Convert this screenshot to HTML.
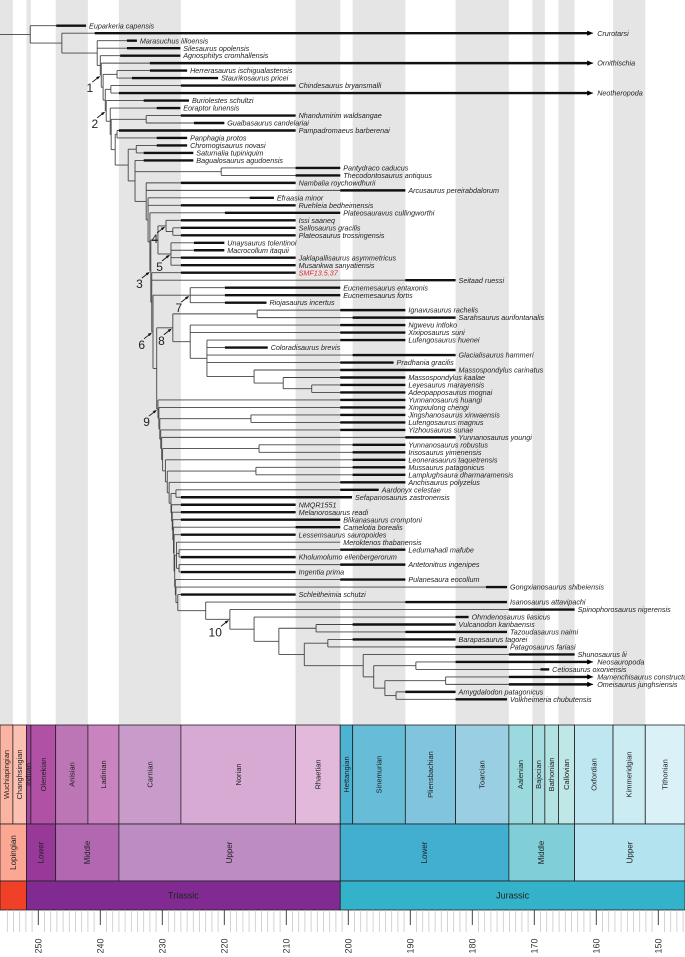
<!DOCTYPE html>
<html><head><meta charset="utf-8"><title>Sauropodomorph time-calibrated phylogeny</title>
<style>
html,body{margin:0;padding:0;background:#fff;}
svg{display:block;font-family:"Liberation Sans",Arial,sans-serif;}
.tx{font-size:7.2px;font-style:italic;fill:#222;}
</style></head>
<body>
<svg id="chart" width="685" height="957" viewBox="0 0 685 957" xmlns="http://www.w3.org/2000/svg">
<g id="bands"></g>
<g id="tree"></g>
<g id="scale"></g>
<g id="axis"></g>
</svg>
<script>
// ---------- DATA ----------
const taxa = ["Euparkeria capensis","Crurotarsi","Marasuchus lilloensis","Silesaurus opolensis","Agnosphitys cromhallensis","Ornithischia","Herrerasaurus ischigualastensis","Staurikosaurus pricei","Chindesaurus bryansmalli","Neotheropoda","Buriolestes schultzi","Eoraptor lunensis","Nhandumirim waldsangae","Guaibasaurus candelariai","Pampadromaeus barberenai","Panphagia protos","Chromogisaurus novasi","Saturnalia tupiniquim","Bagualosaurus agudoensis","Pantydraco caducus","Thecodontosaurus antiquus","Nambalia roychowdhurii","Arcusaurus pereirabdalorum","Efraasia minor","Ruehleia bedheimensis","Plateosauravus cullingworthi","Issi saaneq","Sellosaurus gracilis","Plateosaurus trossingensis","Unaysaurus tolentinoi","Macrocollum itaquii","Jaklapallisaurus asymmetricus","Musankwa sanyatiensis","SMF13.5.37","Seitaad ruessi","Eucnemesaurus entaxonis","Eucnemesaurus fortis","Riojasaurus incertus","Ignavusaurus rachelis","Sarahsaurus aurifontanalis","Ngwevu intloko","Xixiposaurus suni","Lufengosaurus huenei","Coloradisaurus brevis","Glacialisaurus hammeri","Pradhania gracilis","Massospondylus carinatus","Massospondylus kaalae","Leyesaurus marayensis","Adeopapposaurus mognai","Yunnanosaurus huangi","Xingxiulong chengi","Jingshanosaurus xinwaensis","Lufengosaurus magnus","Yizhousaurus sunae","Yunnanosaurus youngi","Yunnanosaurus robustus","Irisosaurus yimenensis","Leonerasaurus taquetrensis","Mussaurus patagonicus","Lamplughsaura dharmaramensis","Anchisaurus polyzelus","Aardonyx celestae","Sefapanosaurus zastronensis","NMQR1551","Melanorosaurus readi","Blikanasaurus cromptoni","Camelotia borealis","Lessemsaurus sauropoides","Meroktenos thabanensis","Ledumahadi mafube","Kholumolumo ellenbergerorum","Antetonitrus ingenipes","Ingentia prima","Pulanesaura eocollum","Gongxianosaurus shibeiensis","Schleitheimia schutzi","Isanosaurus attavipachi","Spinophorosaurus nigerensis","Ohmdenosaurus liasicus","Vulcanodon karibaensis","Tazoudasaurus naimi","Barapasaurus tagorei","Patagosaurus fariasi","Shunosaurus lii","Neosauropoda","Cetiosaurus oxoniensis","Mamenchisaurus constructus","Omeisaurus junghsiensis","Amygdalodon patagonicus","Volkheimeria chubutensis"];
// youngest age of each terminal (Ma)
const tipAge = [242.3,160.5,234.1,227.1,227.1,160.5,226.0,221.0,208.5,160.5,225.7,227.1,208.5,220.0,208.5,226.0,226.0,225.0,225.0,201.3,201.3,208.5,190.8,212.0,208.5,201.3,208.5,208.5,208.5,220.0,220.0,208.5,208.5,208.5,182.7,201.3,201.3,213.2,190.8,182.7,190.8,190.8,190.8,213.0,182.7,192.7,182.7,190.8,190.8,190.8,190.8,190.8,190.8,190.8,190.8,182.7,190.8,190.8,190.8,190.8,190.8,190.8,195.1,199.4,208.5,208.5,201.3,201.3,208.5,201.3,190.8,208.5,190.8,208.5,190.8,174.4,208.5,174.4,163.5,180.6,182.7,174.4,182.7,174.4,163.5,160.5,167.6,160.5,160.5,182.7,174.4];
// oldest age of observed range (Ma)
const rangeOld = [247.1,240.9,235.7,235.7,236.8,232.0,232.0,234.9,227,237.0,233.0,230.9,227,224.9,237.0,230.9,230.9,233.0,233.0,208.5,208.5,227,201.3,215.9,227,219.9,227,227,227,224.9,224.9,227,227,227,190.8,219.9,219.9,219.9,201.3,199.3,201.3,201.3,201.3,219.9,199.3,201.3,201.3,201.3,201.3,201.3,201.3,201.3,201.3,201.3,201.3,190.8,199.3,199.3,199.3,199.3,199.3,201.3,201.3,227,227,227,227,208.5,227,201.3,201.3,227,201.3,227,201.3,177.8,227,190.8,174.1,182.7,199.3,190.8,199.3,182.7,174.1,182.7,169.0,174.1,174.1,190.8,182.7];
const arrowTaxa = [1,5,9,85,87,88];
const highlightTaxa = [33];
// clades: [id, divergence age (Ma), children]
const clades = [
 ['A',251.3,[0,'B']],['B',246.2,[1,'C']],['C',240.5,[2,3,'E']],['E',240.0,[4,'F']],
 ['F',239.85,[5,'G']],['G',239.55,['H','J']],['H',237.3,[6,7]],['J',239.2,['K','L']],
 ['K',238.3,[8,9]],['L',239.05,[10,'M']],['M',238.4,[11,'N']],['N',238.25,['O','P']],
 ['O',232.6,[12,13]],['P',237.6,['Q','R']],['Q',237.3,[14,15]],['R',235.5,['S','T']],
 ['S',234.2,[16,17]],['T',234.4,[18,'V','W']],['V',220.5,[19,20]],['W',232.6,[21,22,'X']],
 ['X',232.3,[23,24,'X2']],['X2',232.0,[25,'N3']],['N3',231.85,['G45','N3b']],
 ['G45',230.7,['N4','N5']],['N4',229.4,[26,'SP']],['SP',228.3,[27,28]],['N5',228.6,[29,30,31,32]],
 ['N3b',231.7,[33,34,'N6']],['N6',231.5,['N7','A6']],['N7',225.5,[35,36,37]],['A6',230.9,['N8','N9']],
 ['N8',228.3,['IS','N8a']],['IS',214.7,[38,39]],['N8a',225.5,[40,41,'N8b']],
 ['N8b',222.8,[42,43,44,45,'N8c']],['N8c',215.2,[46,'N8d']],['N8d',210.5,[47,'LA']],['LA',205.9,[48,49]],
 ['N9',230.7,[50,'N9a']],['N9a',230.55,[51,'N9b']],['N9b',230.4,['JL','N9c']],['JL',215.7,[52,53]],
 ['N9c',230.25,[54,'N9d']],['N9d',230.1,[55,'N9e']],['N9e',229.95,['YI','N9f']],['YI',214.4,[56,57]],
 ['N9f',229.5,[58,'N9g']],['N9g',229.2,['ML','N9h']],['ML',214.9,[59,60]],['N9h',228.9,[61,'N9i']],
 ['N9i',228.6,['AS','N9j']],['AS',227.8,[62,63]],['N9j',228.5,[64,'N9k']],['N9k',228.4,[65,'N9l']],
 ['N9l',228.3,[66,'N9m']],['N9m',228.2,[67,'N9n']],['N9n',228.1,[68,'N9o']],['N9o',228.0,['MG','N9p']],
 ['MG',227.7,[69,'LK',"AI"]],['LK',227.3,[70,71]],['AI',227.3,[72,73]],['N9p',227.9,[74,'N9q']],
 ['N9q',227.8,[75,'N9r']],['N9r',227.5,[76,'SAU']],['SAU',223.0,[77,'S10']],['S10',219.1,[78,'S3']],
 ['S3',215.2,[79,'S4']],['S4',211.2,['VT','S6']],['VT',205.2,[80,81]],['S6',207.1,['BP','S8']],
 ['BP',203.3,[82,83]],['S8',197.6,[84,'S9']],['S9',195.9,['NC','S11']],['NC',189.1,[85,86]],
 ['S11',194.1,['MO','AV']],['MO',184.3,[87,88]],['AV',192.3,[89,90]]
];
const cladeLabelIds = ['F','L','N3','N4','N5','N6','N7','N8','N9','S10'];
const cladeLabelText = ['1','2','3','4','5','6','7','8','9','10'];

const stageNames = ["Wuchiapingian","Changhsingian","Induan","Olenekian","Anisian","Ladinian","Carnian","Norian","Rhaetian","Hettangian","Sinemurian","Pliensbachian","Toarcian","Aalenian","Bajocian","Bathonian","Callovian","Oxfordian","Kimmeridgian","Tithonian"];
const stageBase = [259.1,254.1,251.9,251.2,247.2,242.0,237.0,227.0,208.5,201.3,199.3,190.8,182.7,174.1,170.3,168.3,166.1,163.5,157.3,152.1];
const stageTop  = [254.1,251.9,251.2,247.2,242.0,237.0,227.0,208.5,201.3,199.3,190.8,182.7,174.1,170.3,168.3,166.1,163.5,157.3,152.1,145.0];
const stageColor = ["#FCB4A2","#FCC0B2","#A4469F","#B051A5","#BC75B5","#C983BF","#C99BCB","#D6AAD3","#E3B9DB","#4EB3D3","#67BCD8","#80C5DD","#99CEE3","#9AD9DD","#A6DDE0","#B3E2E3","#BFE7E5","#BFE7F1","#CCECF4","#D9F1F7"];
const seriesNames = ["Lopingian","Lower","Middle","Upper","Lower","Middle","Upper"];
const seriesBase = [259.1,251.9,247.2,237.0,201.3,174.1,163.5];
const seriesTop  = [251.9,247.2,237.0,201.3,174.1,163.5,145.0];
const seriesColor = ["#FBA794","#983999","#B168B1","#BD8CC3","#42AED0","#80CFD8","#B3E3EE"];
const periodNames = ["","Triassic","Jurassic"];
const periodBase = [259.1,251.9,201.3];
const periodTop  = [251.9,201.3,145.0];
const periodColor = ["#F04028","#812B92","#34B2C9"];
const tickLabels = [250,240,230,220,210,200,190,180,170,160,150];

// ---------- SCALES ----------
const W = 685;
const px = a => 38.3 + (250 - a) * 6.2;
const py = i => 25.7 + i * 7.485;
const TREE_BOTTOM = 725, ST_Y = 725, SE_Y = 824, PE_Y = 881, AX_Y = 910;
const NS = "http://www.w3.org/2000/svg";
function mk(tag, attrs, parent){ const e=document.createElementNS(NS,tag); for(const k in attrs) e.setAttribute(k,attrs[k]); parent.appendChild(e); return e; }
const bands=document.getElementById('bands'), tree=document.getElementById('tree'), scale=document.getElementById('scale'), axis=document.getElementById('axis');

// ---------- GREY BANDS ----------
stageNames.forEach((n,i)=>{
  if(i%2!==0) return;
  const x0=Math.max(0,px(stageBase[i])), x1=Math.min(W,px(stageTop[i]));
  const r=mk('rect',{x:x0,y:0,width:x1-x0,height:TREE_BOTTOM,fill:'#e5e5e5'},bands);
  
  
});

// ---------- TREE ----------
const cladeMap={}; clades.forEach(c=>cladeMap[c[0]]={id:c[0],age:c[1],ch:c[2]});
const nodeY={};
function yOf(c){ if(typeof c==='number') return py(c); const n=cladeMap[c]; if(nodeY[c]!==undefined) return nodeY[c];
  const ys=n.ch.map(yOf); nodeY[c]=(ys[0]+ys[ys.length-1])/2; return nodeY[c]; }
yOf('A');
const THIN='#444', THICK='#111';
function drawLeaf(i, parentX){
  const y=py(i), isArrow=arrowTaxa.includes(i);
  const xt=px(tipAge[i]);
  const g=mk('g',{},tree);
  
  
  mk('line',{x1:parentX,y1:y,x2:xt,y2:y,stroke:THIN,'stroke-width':0.9},g);
  const xo=Math.max(parentX,px(rangeOld[i]));
  const xe=isArrow?xt-5:xt;
  if(xe>xo) mk('line',{x1:xo,y1:y,x2:xe,y2:y,stroke:THICK,'stroke-width':2.4},g);
  if(isArrow) mk('polygon',{points:`${xt-6},${y-2.6} ${xt},${y} ${xt-6},${y+2.6}`,fill:'#000'},g);
  const t=mk('text',{x:xt+(isArrow?4:3),y:y+2.6,class:'tx'},g);
  if(highlightTaxa.includes(i)) t.setAttribute('style','fill:#e8252a');
  t.textContent=taxa[i];
}
function drawNode(id, parentX){
  const n=cladeMap[id], x=px(n.age), y=nodeY[id];
  if(parentX!==null) mk('line',{x1:parentX,y1:y,x2:x,y2:y,stroke:THIN,'stroke-width':0.9},tree);
  const ys=n.ch.map(yOf);
  mk('line',{x1:x,y1:Math.min(...ys),x2:x,y2:Math.max(...ys),stroke:THIN,'stroke-width':0.9},tree);
  n.ch.forEach(c=>{ if(typeof c==='number') drawLeaf(c,x); else drawNode(c,x); });
}
mk('line',{x1:0,y1:nodeY['A'],x2:px(cladeMap['A'].age),y2:nodeY['A'],stroke:THIN,'stroke-width':0.9},tree);
drawNode('A',null);

// clade number labels
cladeLabelIds.forEach((id,k)=>{
  const x=px(cladeMap[id].age), y=nodeY[id];
  const g=mk('g',{},tree);
  
  
  mk('line',{x1:x-9,y1:y+7,x2:x-2,y2:y+1.5,stroke:'#111','stroke-width':0.9},g);
  mk('polygon',{points:`${x-1},${y+0.8} ${x-5.2},${y+2} ${x-3.4},${y+4.3}`,fill:'#111'},g);
  const t=mk('text',{x:x-8,y:y+17,'text-anchor':'end','font-size':'12px',fill:'#222'},g);
  t.textContent=cladeLabelText[k];
});

// ---------- TIMESCALE ----------
function box(x0,x1,y0,h,fill,label,fs,rot,name){
  const a=Math.max(0,x0), b=Math.min(W,x1);
  const g=mk('g',{},scale);
  
  
  mk('rect',{x:a,y:y0,width:b-a,height:h,fill:fill,stroke:'#222','stroke-width':0.8},g);
  if(!label) return;
  const cx=(a+b)/2, cy=y0+h/2;
  const t=mk('text',{x:cx,y:cy,'text-anchor':'middle','dominant-baseline':'central','font-size':fs+'px',fill:'#222'},g);
  if(rot) t.setAttribute('transform',`rotate(-90 ${cx} ${cy})`);
  t.textContent=label;
}
stageNames.forEach((n,i)=>box(px(stageBase[i]),px(stageTop[i]),ST_Y,SE_Y-ST_Y,stageColor[i],n,7.5,true,'stage-'+n.toLowerCase()));
seriesNames.forEach((n,i)=>box(px(seriesBase[i]),px(seriesTop[i]),SE_Y,PE_Y-SE_Y,seriesColor[i],n,8,true,'series-'+n.toLowerCase()+'-'+i));
periodNames.forEach((n,i)=>box(px(periodBase[i]),px(periodTop[i]),PE_Y,AX_Y-PE_Y,periodColor[i],n,9,false,'period-'+(n||'permian').toLowerCase()));

// ---------- AXIS ----------
for(let a=255;a>=145;a--){
  const x=px(a); if(x<0||x>W) continue;
  const major=(a%10===0);
  mk('line',{x1:x,y1:AX_Y,x2:x,y2:major?AX_Y+15:AX_Y+22,stroke:major?'#333':'#c8c8c8','stroke-width':major?0.9:0.8},axis);
}
tickLabels.forEach(v=>{
  const x=px(v), y=946;
  const t=mk('text',{x:x,y:y,'text-anchor':'middle','dominant-baseline':'central','font-size':'9px',fill:'#333',transform:`rotate(-90 ${x} ${y})`},axis);
  
  
  t.textContent=v;
});
</script>
</body></html>
